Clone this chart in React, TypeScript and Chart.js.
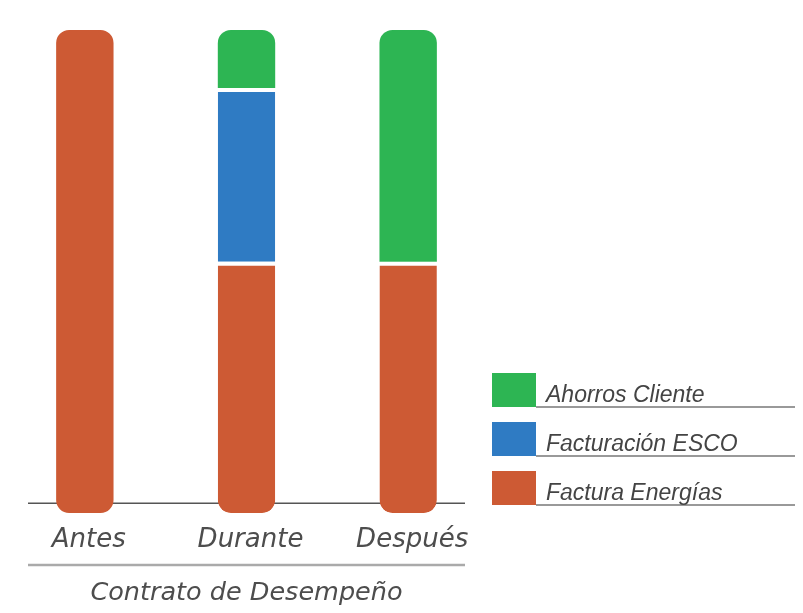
import React, { useEffect, useRef } from "react";
import { Chart, registerables } from "chart.js";

Chart.register(...registerables);

const CATEGORIES = ["Antes", "Durante", "Después"];
const FACTURA_ENERGIAS = [100, 52, 52];
const FACTURACION_ESCO = [0, 36, 0];
const AHORROS_CLIENTE = [0, 12, 48];
const SERIES_LABELS = ["Factura Energías", "Facturación ESCO", "Ahorros Cliente"];
const SERIES_COLORS = ["#cd5a34", "#2f7bc3", "#2db553"];
const AXIS_TITLE = "Contrato de Desempeño";
const AXIS_BASE = 2;

const ALL = [FACTURA_ENERGIAS, FACTURACION_ESCO, AHORROS_CLIENTE];
const R = 13;

function topIndex(i: number) {
  let t = 0;
  ALL.forEach((arr, d) => {
    if (arr[i] > 0) t = d;
  });
  return t;
}

const decorPlugin = {
  id: "decor",
  beforeDatasetsDraw(chart: any) {
    const { ctx, chartArea, scales } = chart;
    const y = scales.y.getPixelForValue(AXIS_BASE);
    ctx.save();
    ctx.strokeStyle = "#555";
    ctx.lineWidth = 1.5;
    ctx.beginPath();
    ctx.moveTo(chartArea.left + 24, y);
    ctx.lineTo(chartArea.right - 24, y);
    ctx.stroke();
    ctx.restore();
  },
  afterDraw(chart: any) {
    const { ctx, chartArea, scales } = chart;
    ctx.save();
    ctx.fillStyle = "#4d4d4d";
    ctx.font = "italic 26px 'DejaVu Sans'";
    ctx.textAlign = "center";
    ctx.textBaseline = "alphabetic";
    CATEGORIES.forEach((c, i) => {
      ctx.fillText(c, scales.x.getPixelForValue(i) + 4, 547);
    });
    ctx.strokeStyle = "#aaa";
    ctx.lineWidth = 2.5;
    ctx.beginPath();
    ctx.moveTo(chartArea.left + 24, 565);
    ctx.lineTo(chartArea.right - 24, 565);
    ctx.stroke();
    ctx.font = "italic 25.5px 'DejaVu Sans'";
    ctx.fillText(AXIS_TITLE, (chartArea.left + chartArea.right) / 2, 600);

    // legend
    const order = [2, 1, 0];
    const tops = [373, 422, 471];
    order.forEach((d, k) => {
      const top = tops[k];
      ctx.fillStyle = SERIES_COLORS[d];
      ctx.fillRect(492, top, 44, 34);
      ctx.strokeStyle = "#999";
      ctx.lineWidth = 2;
      ctx.beginPath();
      ctx.moveTo(536, top + 34);
      ctx.lineTo(795, top + 34);
      ctx.stroke();
      ctx.fillStyle = "#444";
      ctx.font = "italic 23px 'Liberation Sans'";
      ctx.textAlign = "left";
      ctx.fillText(SERIES_LABELS[d], 546, top + 29);
    });
    ctx.restore();
  },
};

export default function App() {
  const ref = useRef<HTMLCanvasElement>(null);
  useEffect(() => {
    if (!ref.current) return;
    const mk = (d: number) => ({
      label: SERIES_LABELS[d],
      data: ALL[d],
      backgroundColor: SERIES_COLORS[d],
      borderColor: "#ffffff",
      borderSkipped: false as any,
      borderWidth: (c: any) => {
        const t = topIndex(c.dataIndex);
        return { top: d < t ? 4 : 0, bottom: 0, left: 0, right: 0 };
      },
      borderRadius: (c: any) => {
        const t = topIndex(c.dataIndex);
        const isTop = d === t;
        const isBottom = d === 0;
        return {
          topLeft: isTop ? R : 0,
          topRight: isTop ? R : 0,
          bottomLeft: isBottom ? R : 0,
          bottomRight: isBottom ? R : 0,
        };
      },
      barPercentage: 0.355,
      categoryPercentage: 1,
    });
    const chart = new Chart(ref.current, {
      type: "bar",
      data: { labels: CATEGORIES, datasets: [mk(0), mk(1), mk(2)] },
      options: {
        animation: false,
        responsive: false,
        layout: { padding: { left: 4, right: 314, top: 30, bottom: 100 } },
        plugins: { legend: { display: false }, tooltip: { enabled: false } },
        scales: {
          x: { stacked: true, display: false },
          y: { stacked: true, display: false, min: 0, max: 100 },
        },
      },
      plugins: [decorPlugin],
    });
    return () => chart.destroy();
  }, []);
  return (
    <div style={{ position: "fixed", left: 0, top: 0, width: 803, height: 613, background: "#fff" }}>
      <canvas ref={ref} width={803} height={613} />
    </div>
  );
}
